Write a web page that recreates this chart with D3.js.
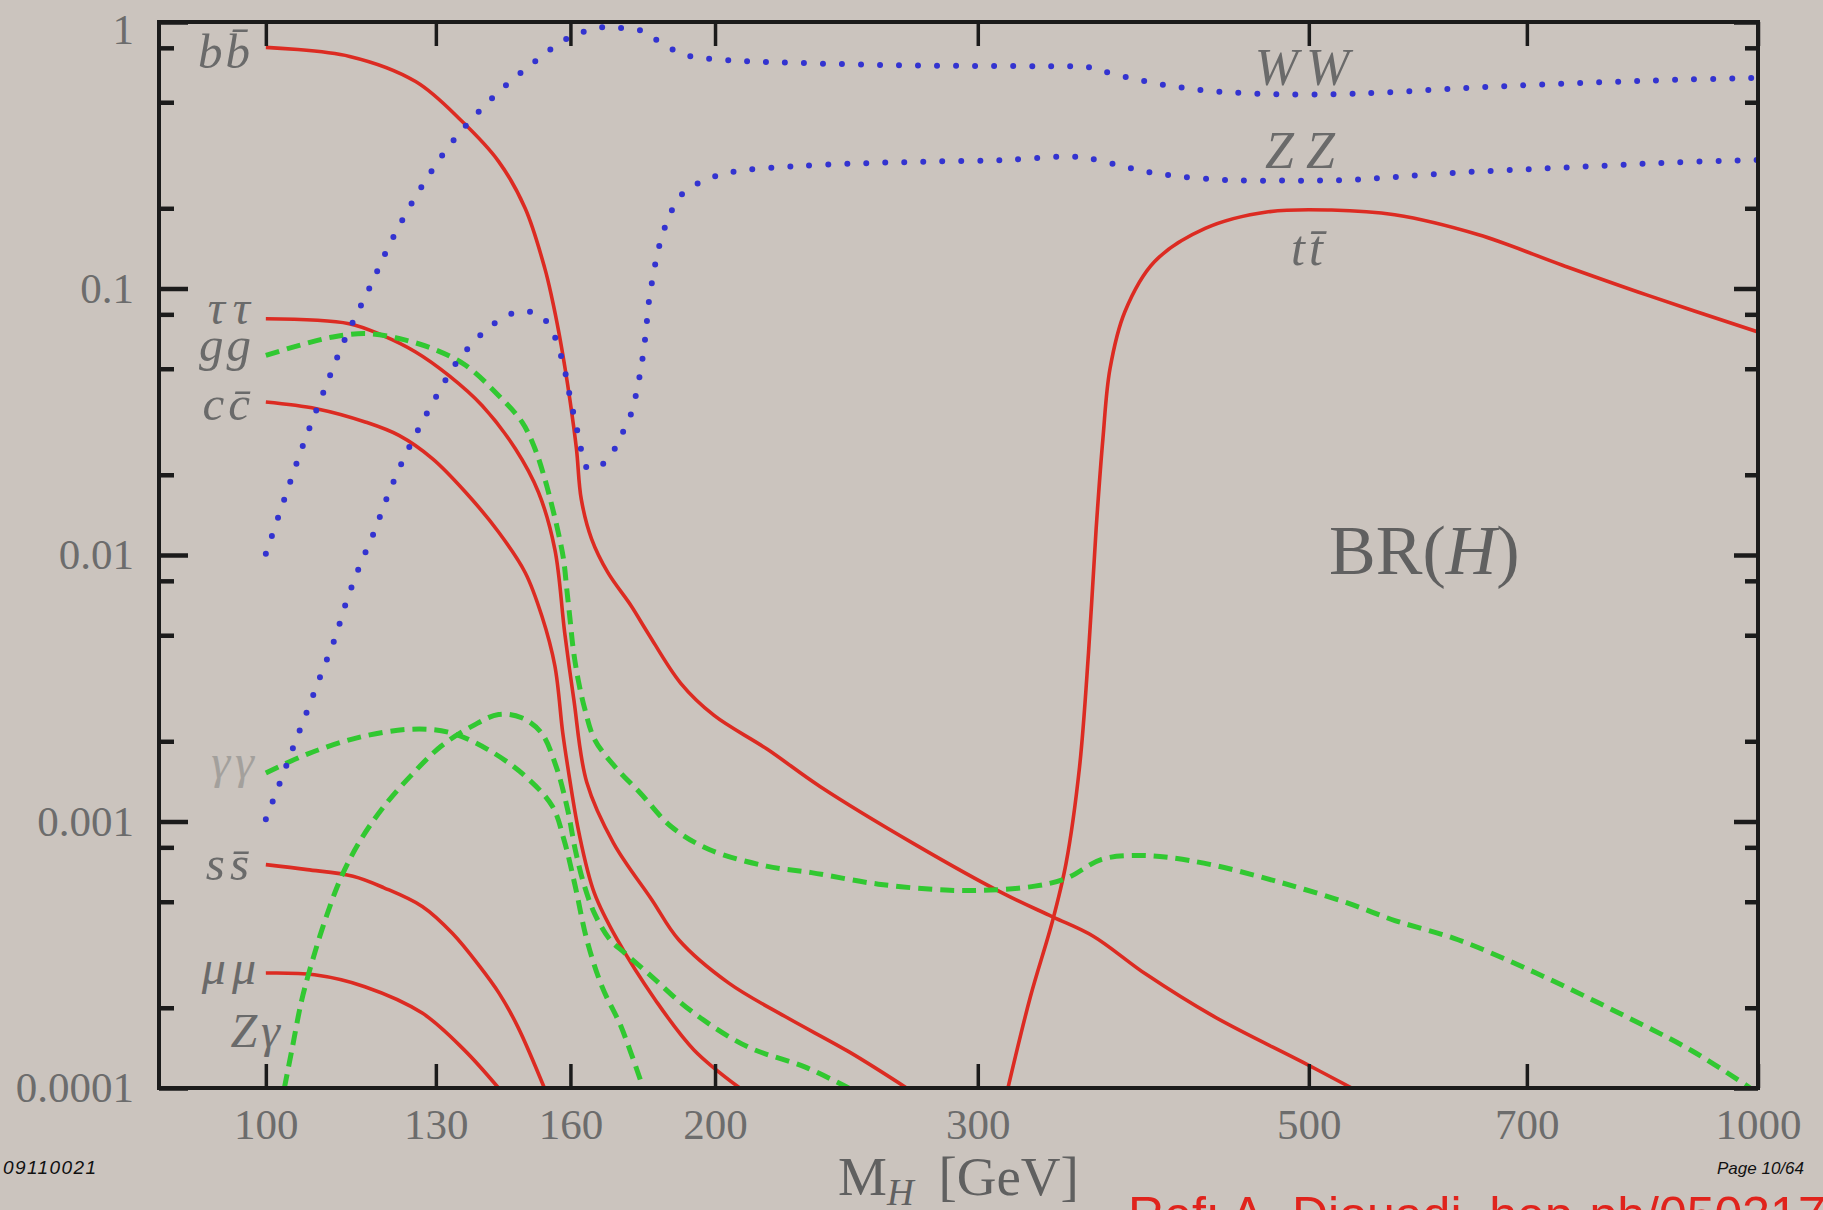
<!DOCTYPE html>
<meta charset="utf-8">
<script src="https://d3js.org/d3.v7.min.js"></script>
<style>
  body { margin: 0; background: #cbc4be; }
  svg { display: block; }
</style>
<body>
<div id="chart"></div>
<script>

// Higgs branching ratios, [M_H in GeV, BR]
var bb = [[100,0.803],[113.8,0.743],[126,0.598],[135.4,0.423],[143.2,0.30],[149.2,0.20],[153.8,0.119],[155.5,0.092],[157.2,0.068],[158.7,0.05],[159.9,0.038],[161.5,0.025],[162.7,0.0162],[165.3,0.0115],[169.5,0.0086],[175.7,0.00645],[180.3,0.0051],[189.7,0.0033],[199.7,0.0025],[216.7,0.00187],[235.3,0.00135],[271.9,0.000824],[312.2,0.000536],[336.7,0.000439],[358.3,0.000372],[389,0.000267],[431.5,0.000186],[495.3,0.000125],[534.3,0.0001]];
var tautau = [[100,0.077],[113.7,0.0738],[119.7,0.0667],[126,0.0578],[132.6,0.0472],[139.6,0.0364],[147,0.025],[152.3,0.0172],[156.2,0.0105],[158.6,0.0051],[160.8,0.0029],[164.1,0.0014],[171,0.00083],[181.4,0.000509],[189.1,0.00036],[204.2,0.000248],[223,0.000185],[246.3,0.000136],[268.8,0.0001]];
var cc = [[100,0.0375],[108.1,0.0354],[116.7,0.0315],[122.8,0.0281],[129.3,0.023],[136.1,0.0172],[143.2,0.0122],[149.2,0.0086],[153.1,0.0059],[156.2,0.00384],[158.1,0.00216],[159.3,0.00162],[162.1,0.00091],[166,0.00054],[172,0.00036],[182.4,0.000214],[193.6,0.000139],[207.8,0.0001]];
var ss = [[100,0.000689],[106.6,0.00066],[114.4,0.000623],[120,0.000564],[127.3,0.00048],[133.4,0.00038],[139.1,0.000286],[143.3,0.000227],[147.5,0.00017],[153.7,0.0001]];
var mumu = [[100,0.00027],[107.8,0.000266],[116.5,0.00024],[127.3,0.000191],[135.8,0.000139],[143.2,0.0001]];
var tt = [[314.3,0.0001],[325.3,0.000219],[336.7,0.000424],[343.8,0.000698],[351,0.0016],[355.9,0.0043],[360.1,0.0125],[363.9,0.0273],[367.9,0.05],[376.5,0.082],[394,0.126],[426.1,0.168],[469.7,0.194],[517.8,0.197],[570.8,0.189],[649.8,0.159],[740.3,0.122],[843,0.0944],[1000,0.0687]];
var WW = [[100,0.0101],[102.9,0.0162],[105.9,0.0258],[109.2,0.0403],[112.9,0.064],[117.3,0.1],[121.6,0.154],[127,0.238],[133.4,0.356],[141.8,0.518],[151.5,0.712],[159.5,0.871],[167.9,0.955],[173.1,0.95],[178.5,0.927],[182.6,0.858],[187.4,0.787],[192.7,0.743],[204.9,0.718],[216.8,0.708],[265.2,0.688],[329.8,0.682],[356,0.676],[368,0.643],[384.4,0.607],[406,0.573],[433.5,0.549],[473,0.536],[522,0.536],[569.6,0.546],[635.5,0.565],[708.8,0.581],[790.7,0.595],[882,0.607],[1000,0.617]];
var ZZ = [[100,0.00102],[102.4,0.00144],[104.5,0.00195],[106.7,0.00264],[108.9,0.00357],[111.2,0.00483],[113.2,0.00664],[115.5,0.009],[118.2,0.0122],[120.6,0.0165],[123.4,0.0223],[126.6,0.0298],[130.2,0.0397],[134.3,0.053],[139.6,0.0678],[142.8,0.075],[146.9,0.0812],[151.1,0.0812],[154.6,0.0738],[157.9,0.0545],[159.9,0.0392],[161.9,0.0285],[164.4,0.0211],[168.3,0.022],[171.3,0.025],[173.5,0.0289],[175.7,0.0339],[178,0.0466],[179.5,0.064],[180.6,0.0894],[181.4,0.1045],[182.3,0.122],[183.4,0.1426],[185,0.168],[186.9,0.194],[189.8,0.224],[194.7,0.248],[199.7,0.263],[206.2,0.275],[225,0.287],[250.9,0.295],[280,0.2995],[312.4,0.3036],[344.6,0.3126],[356,0.308],[372.1,0.291],[388.6,0.275],[410.5,0.263],[443.1,0.255],[483.6,0.254],[527.9,0.255],[576,0.263],[635.5,0.273],[708.8,0.281],[790.7,0.289],[882,0.2976],[1000,0.3036]];
var gg = [[100,0.0561],[105.3,0.0612],[110.9,0.0658],[116.7,0.0678],[122.8,0.0649],[129.3,0.0595],[136.1,0.0515],[143.2,0.0397],[148.5,0.0315],[151.5,0.025],[153.8,0.0193],[155.5,0.0153],[157,0.0122],[158.3,0.00966],[159.1,0.00745],[159.9,0.00575],[160.7,0.00443],[161.9,0.00342],[163.6,0.00264],[166.1,0.00203],[171.3,0.00161],[178.2,0.00128],[186.8,0.00096],[198.2,0.000785],[216.5,0.00068],[232.1,0.000643],[257.4,0.000582],[285.4,0.000553],[305.8,0.000553],[327.6,0.000572],[343.8,0.000611],[363.2,0.000721],[383.8,0.000746],[402.7,0.000733],[431.5,0.000686],[478.5,0.000591],[530.6,0.000495],[571,0.000425],[629.5,0.00036],[710,0.00027],[801,0.000195],[903,0.000138],[988,0.0001]];
var gamgam = [[100,0.00152],[106.6,0.00179],[115.1,0.00206],[125,0.00222],[132.7,0.00216],[140.7,0.00187],[149.2,0.00148],[155.6,0.00114],[158.4,0.000856],[161.2,0.000571],[164.1,0.00036],[168,0.00024],[173,0.00017],[179,0.0001]];
var Zgam = [[102.9,0.0001],[104.1,0.000139],[105.7,0.000214],[107.5,0.000303],[109.8,0.000441],[112.4,0.000623],[115.8,0.000856],[120,0.00114],[125,0.00148],[131.1,0.00192],[137.5,0.00228],[143.2,0.00252],[148.4,0.00245],[152.9,0.00216],[156.5,0.00161],[159.3,0.00111],[161.2,0.000784],[163.4,0.000579],[166.2,0.000447],[170.1,0.00036],[174,0.000321],[181.4,0.000262],[192.4,0.000196],[210.2,0.000143],[229.7,0.00012],[245.8,0.0001]];

// tick values
var xTicks = [100, 130, 160, 200, 300, 500, 700, 1000];
var yMajor = [0.0001, 0.001, 0.01, 0.1, 1];
var yMinor = [0.0002, 0.0005, 0.0008, 0.002, 0.005, 0.008, 0.02, 0.05, 0.08, 0.2, 0.5, 0.8];

var W = 1823, H = 1210;
var pLeft = 159, pRight = 1758, pTop = 22, pBottom = 1088;

var svg = d3.select("#chart").append("svg")
    .attr("width", W)
    .attr("height", H);

svg.append("rect").attr("width", W).attr("height", H).attr("fill", "#cbc4be");

var x = d3.scaleLog().domain([84.8, 1000]).range([pLeft, pRight]);
var y = d3.scaleLog().domain([0.0001, 1]).range([pBottom, pTop]);

var serif = "'Liberation Serif', 'Times New Roman', serif";
var sans = "'Liberation Sans', Arial, sans-serif";

svg.append("clipPath").attr("id", "plotclip")
  .append("rect")
    .attr("x", pLeft).attr("y", pTop)
    .attr("width", pRight - pLeft).attr("height", pBottom - pTop);

var line = d3.line()
    .x(function(d) { return x(d[0]); })
    .y(function(d) { return y(d[1]); })
    .curve(d3.curveCatmullRom.alpha(0.5));

var RED = "#dc2b22", GREEN = "#31c831", BLUE = "#3333d0";

var curves = [
  {data: bb, kind: "solid"}, {data: tautau, kind: "solid"}, {data: cc, kind: "solid"},
  {data: ss, kind: "solid"}, {data: mumu, kind: "solid"}, {data: tt, kind: "solid"},
  {data: gg, kind: "dash"}, {data: gamgam, kind: "dash"}, {data: Zgam, kind: "dash"},
  {data: WW, kind: "dot"}, {data: ZZ, kind: "dot"}
];

var plot = svg.append("g").attr("clip-path", "url(#plotclip)");

curves.forEach(function(c) {
  var p = plot.append("path")
    .datum(c.data)
    .attr("fill", "none")
    .attr("d", line);
  if (c.kind == "solid") {
    p.attr("stroke", RED).attr("stroke-width", 3.6);
  } else if (c.kind == "dash") {
    p.attr("stroke", GREEN).attr("stroke-width", 5).attr("stroke-dasharray", "14,8");
  } else {
    p.attr("stroke", BLUE).attr("stroke-width", 6)
     .attr("stroke-linecap", "round").attr("stroke-dasharray", "0,19");
  }
});

// axes
function styleAxis(g, w) {
  g.select(".domain").remove();
  g.selectAll(".tick line").attr("stroke", "#1b1b1b").attr("stroke-width", w);
  g.selectAll(".tick text")
    .attr("fill", "#6c6c6c")
    .style("font-family", serif)
    .style("font-size", "43px");
}

svg.append("g")
    .attr("transform", "translate(0," + pBottom + ")")
    .call(d3.axisBottom(x).tickValues(xTicks).tickSizeInner(-24).tickSizeOuter(0)
      .tickPadding(20).tickFormat(d3.format("d")))
    .call(styleAxis, 3.5);

svg.append("g")
    .attr("transform", "translate(0," + pTop + ")")
    .call(d3.axisTop(x).tickValues(xTicks).tickSizeInner(-24).tickSizeOuter(0).tickFormat(""))
    .call(styleAxis, 3.5);

var yAxisG = svg.append("g")
    .attr("transform", "translate(" + pLeft + ",0)")
    .call(d3.axisLeft(y).tickValues(yMajor).tickSizeInner(-29).tickSizeOuter(0)
      .tickPadding(25).tickFormat(function(d) { return d >= 1 ? "1" : String(d); }))
    .call(styleAxis, 4.5);
// the top label sits a little lower in the original
yAxisG.selectAll(".tick text").filter(function(d) { return d >= 1; }).attr("dy", "0.5em");

svg.append("g")
    .attr("transform", "translate(" + pLeft + ",0)")
    .call(d3.axisLeft(y).tickValues(yMinor).tickSizeInner(-15).tickSizeOuter(0).tickFormat(""))
    .call(styleAxis, 4.5);

svg.append("g")
    .attr("transform", "translate(" + pRight + ",0)")
    .call(d3.axisRight(y).tickValues(yMajor).tickSizeInner(-24).tickSizeOuter(0).tickFormat(""))
    .call(styleAxis, 4.5);

svg.append("g")
    .attr("transform", "translate(" + pRight + ",0)")
    .call(d3.axisRight(y).tickValues(yMinor).tickSizeInner(-13).tickSizeOuter(0).tickFormat(""))
    .call(styleAxis, 4.5);

svg.append("rect")
    .attr("x", pLeft).attr("y", pTop)
    .attr("width", pRight - pLeft).attr("height", pBottom - pTop)
    .attr("fill", "none")
    .attr("stroke", "#1b1b1b")
    .attr("stroke-width", 4);

// channel labels
var labels = [
  {t: "bb\u0304", x: 253, y: 68, anchor: "end", size: 49, ls: 3},
  {t: "\u03c4\u03c4", x: 258, y: 324, anchor: "end", size: 48, ls: 8},
  {t: "gg", x: 254, y: 361, anchor: "end", size: 49, ls: 3},
  {t: "cc\u0304", x: 254, y: 420, anchor: "end", size: 49, ls: 4},
  {t: "\u03b3\u03b3", x: 259, y: 778, anchor: "end", size: 48, ls: 5, fill: "#a3a09c"},
  {t: "ss\u0304", x: 254, y: 880, anchor: "end", size: 49, ls: 5},
  {t: "\u03bc\u03bc", x: 262, y: 984, anchor: "end", size: 48, ls: 6},
  {t: "Z\u03b3", x: 284, y: 1047, anchor: "end", size: 48, ls: 4},
  {t: "WW", x: 1306, y: 85, anchor: "middle", size: 52, ls: 8},
  {t: "ZZ", x: 1306, y: 168, anchor: "middle", size: 52, ls: 12},
  {t: "tt\u0304", x: 1309, y: 265, anchor: "middle", size: 50, ls: 4}
];

labels.forEach(function(l) {
  svg.append("text")
    .attr("x", l.x).attr("y", l.y)
    .attr("text-anchor", l.anchor)
    .attr("fill", l.fill || "#6a6a6a")
    .style("font-family", serif)
    .style("font-style", "italic")
    .style("font-size", l.size + "px")
    .style("letter-spacing", (l.ls || 0) + "px")
    .text(l.t);
});

var br = svg.append("text")
    .attr("x", 1329).attr("y", 574)
    .attr("fill", "#606060")
    .style("font-family", serif)
    .style("font-size", "70px");
br.append("tspan").text("BR(");
br.append("tspan").style("font-style", "italic").text("H");
br.append("tspan").text(")");

// x axis title
var xt = svg.append("text")
    .attr("x", 838).attr("y", 1195)
    .attr("fill", "#606060")
    .style("font-family", serif)
    .style("font-size", "55px");
xt.append("tspan").text("M");
xt.append("tspan").attr("dy", 10).style("font-style", "italic").style("font-size", "37px").text("H");
xt.append("tspan").attr("dy", -10).text("\u2009 [GeV]");

// slide footer
svg.append("text")
    .attr("x", 3).attr("y", 1174)
    .attr("fill", "#111")
    .attr("textLength", 93)
    .style("font-family", sans).style("font-style", "italic").style("font-size", "19px")
    .text("09110021");

svg.append("text")
    .attr("x", 1804).attr("y", 1174)
    .attr("text-anchor", "end")
    .attr("fill", "#111")
    .style("font-family", sans).style("font-style", "italic").style("font-size", "17px")
    .text("Page 10/64");

svg.append("text")
    .attr("x", 1128).attr("y", 1232)
    .attr("fill", "#e0231c")
    .style("font-family", sans).style("font-size", "50px")
    .text("Ref: A. Djouadi, hep-ph/0503172");

</script>
</body>
